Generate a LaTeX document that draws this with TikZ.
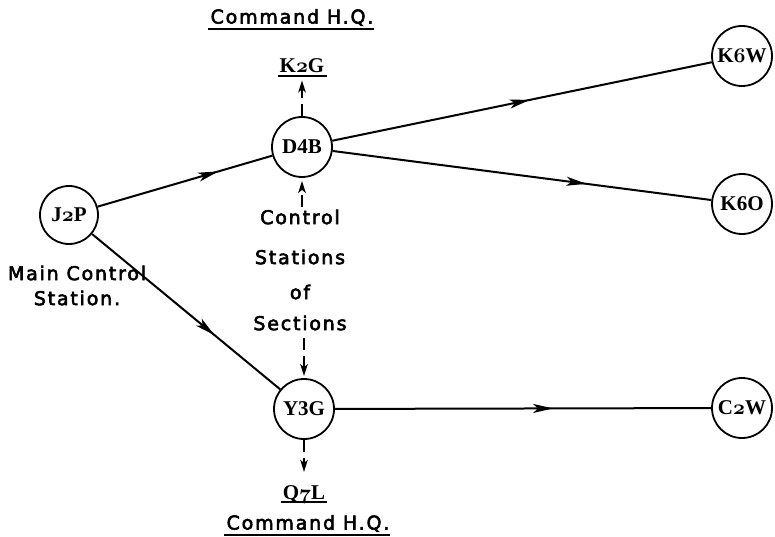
\documentclass[tikz,border=0pt]{standalone}
\usepackage{fontspec}
\newfontfamily\capfont[LetterSpace=9.5,FakeBold=3]{DejaVu Sans}
\newfontfamily\callfont{Liberation Serif Bold}
\usetikzlibrary{arrows.meta,decorations.markings}
% old-style figures taken from the bold math italic font
\newcommand\osdig[1]{{\fontencoding{OML}\fontfamily{cmm}\fontseries{b}\fontshape{it}\selectfont #1}}

\tikzset{
  station/.style={circle,draw,line width=1.8pt,minimum size=60pt,inner sep=0pt,
    font=\callfont\fontsize{21}{23}\selectfont},
  callsign/.style={inner sep=0pt,font=\callfont\fontsize{21}{23}\selectfont},
  caption/.style={inner sep=0pt,align=center,font=\capfont\fontsize{19}{25}\selectfont},
  link/.style={line width=2pt},
  midarrow/.style={postaction={decorate},decoration={markings,
    mark=at position #1 with {\arrow{Stealth[length=20pt,width=9pt,inset=5pt]}}}},
  order/.style={line width=1.8pt,dash pattern=on 12pt off 6pt,
    -{Stealth[length=12pt,width=7.5pt,inset=3pt]}},
  rule/.style={line width=2pt}
}

\begin{document}
\begin{tikzpicture}[x=1pt,y=-1pt]
\useasboundingbox (0,0) rectangle (775,537);

% stations
\node[station,minimum size=58pt] (j2p) at (69,215) {J\osdig{2}P};
\node[station] (d4b) at (302,147) {D4B};
\node[station] (y3g) at (304,409) {Y3G};
\node[station] (k6w) at (742,56)  {K\osdig{6}W};
\node[station] (k6o) at (742,204) {K6O};
\node[station] (c2w) at (742,408) {C\osdig{2}W};

% headquarters call signs
\node[callsign,anchor=base] (k2g) at (302,73)  {K\osdig{2}G};
\node[callsign,anchor=base] (q7l) at (304,499) {Q\osdig{7}L};
\draw[rule] ([xshift=-2pt,yshift=-3pt]k2g.base west) -- ([xshift=2pt,yshift=-3pt]k2g.base east);
\draw[rule] ([xshift=-2pt,yshift=-3pt]q7l.base west) -- ([xshift=2pt,yshift=-3pt]q7l.base east);

% captions
\node[caption,anchor=base] (hqtop) at (292,23.5) {Command H.Q.};
\node[caption,anchor=base] (hqbot) at (308,529.5) {Command H.Q.};
\draw[rule] ([xshift=-2pt,yshift=-5.5pt]hqtop.base west) -- ([xshift=0pt,yshift=-5.5pt]hqtop.base east);
\draw[rule] ([xshift=-2pt,yshift=-5.5pt]hqbot.base west) -- ([xshift=0pt,yshift=-5.5pt]hqbot.base east);
\node[caption,anchor=north] (main) at (77,265.5) {Main Control\\Station.};
\node[caption,anchor=north] (sect) at (300,209.5) {Control\\[15pt]Stations\\[10pt]of\\[6pt]Sections};

% wireless links
\draw[link,midarrow=0.69] (j2p) -- (d4b);
\draw[link,midarrow=0.52] (d4b) -- (k6w);
\draw[link,midarrow=0.67] (d4b) -- (k6o);
\draw[link,midarrow=0.65] (j2p) -- (y3g);
\draw[link,midarrow=0.58] (y3g) -- (c2w);

% links to headquarters and section control
\draw[order,shorten >=7pt] (d4b) -- (k2g);
\draw[order,shorten >=13pt] (y3g) -- (q7l);
\draw[order,shorten <=2pt,shorten >=3pt] (d4b |- sect.north) -- (d4b.south);
\draw[order,shorten <=7pt,shorten >=2pt] (y3g |- sect.south) -- (y3g.north);
\end{tikzpicture}
\end{document}
